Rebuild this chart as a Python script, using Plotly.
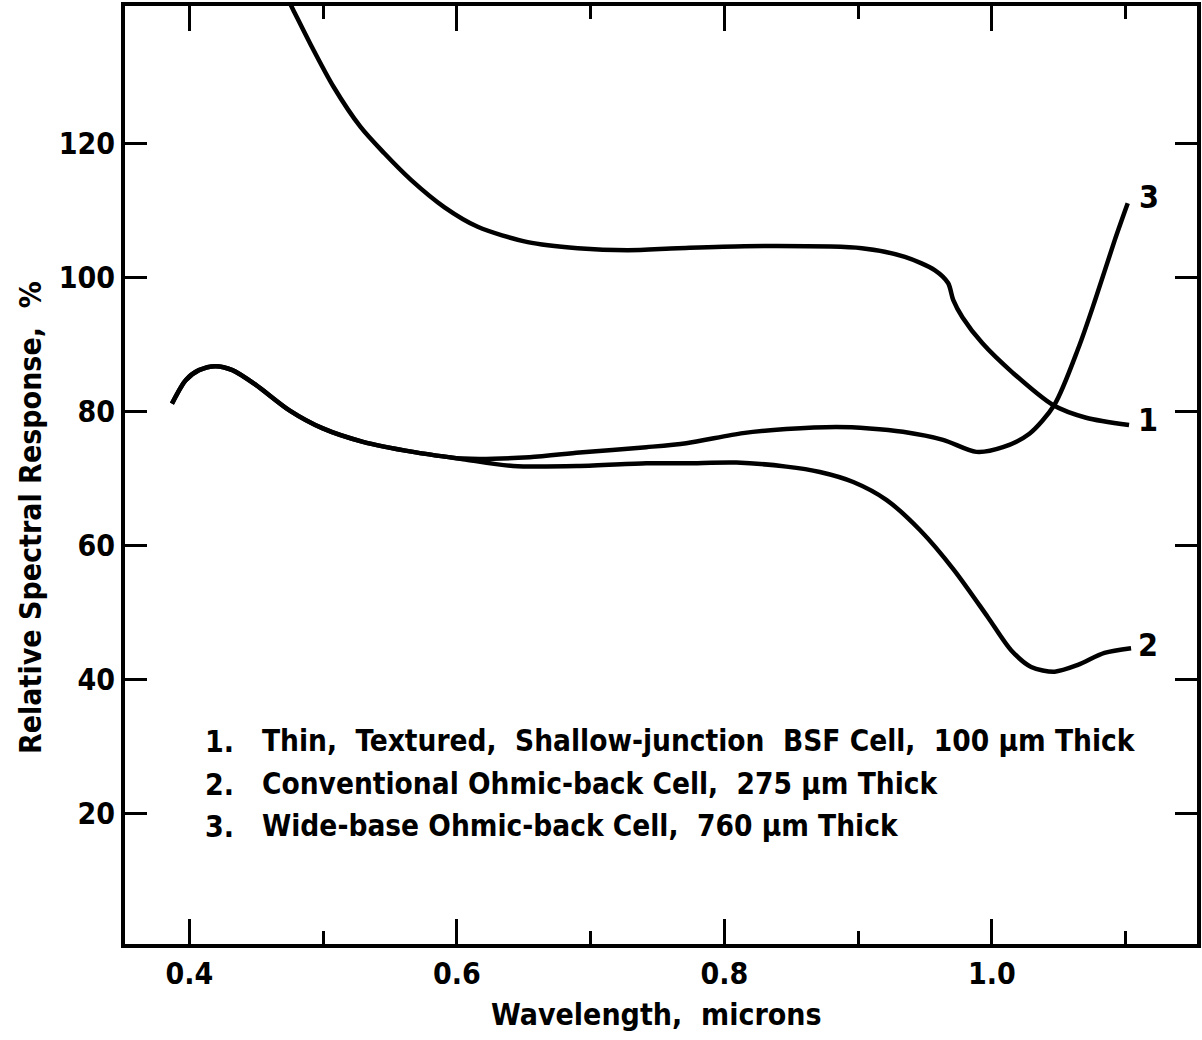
import plotly.graph_objects as go

# ---- data ----
wl_1 = [0.466, 0.4775, 0.4901, 0.5077, 0.5279, 0.5455, 0.5656, 0.5907, 0.6155, 0.6529, 0.6903,
        0.7277, 0.7651, 0.8152, 0.9027, 0.9349, 0.9574, 0.9672, 0.9710, 0.9779, 0.9929, 1.0156,
        1.0456, 1.0704, 1.1025]
resp_1 = [144.5, 139.9, 134.9, 128.4, 122.4, 118.5, 114.5, 110.4, 107.5, 105.2, 104.3,
          104.0, 104.3, 104.6, 104.3, 103.0, 101.0, 99.1, 96.6, 94.0, 90.1, 85.7,
          80.9, 79.0, 77.9]

wl_2 = [0.3869, 0.3972, 0.4071, 0.4196, 0.4321, 0.4496, 0.4747, 0.4997, 0.5297, 0.5671, 0.6046,
        0.6420, 0.6918, 0.7416, 0.7715, 0.8089, 0.8463, 0.8713, 0.8963, 0.9213, 0.9463, 0.9715,
        0.9967, 1.0143, 1.0293, 1.0469, 1.0642, 1.0841, 1.1040]
resp_2 = [81.1, 84.6, 86.1, 86.7, 86.1, 83.9, 80.1, 77.4, 75.4, 73.9, 72.8,
          71.8, 71.8, 72.2, 72.2, 72.3, 71.7, 70.9, 69.4, 66.7, 62.2, 56.3,
          49.3, 44.3, 41.8, 41.1, 42.1, 43.9, 44.6]

wl_3 = [0.3869, 0.3972, 0.4071, 0.4196, 0.4321, 0.4496, 0.4747, 0.4997, 0.5297, 0.5671, 0.6046,
        0.6541, 0.6917, 0.7415, 0.7714, 0.8138, 0.8461, 0.8835, 0.9084, 0.9334, 0.9634, 0.9883,
        1.0082, 1.0280, 1.0466, 1.0650, 1.0772, 1.0918, 1.1015]
resp_3 = [81.1, 84.6, 86.1, 86.7, 86.1, 83.9, 80.1, 77.4, 75.4, 73.9, 72.9,
          73.1, 73.8, 74.6, 75.2, 76.7, 77.3, 77.6, 77.4, 76.9, 75.7, 73.9,
          74.6, 76.6, 80.9, 89.6, 96.6, 105.5, 111.0]

curve_labels = ["1", "2", "3"]
legend_numbers = ["1.", "2.", "3."]
legend_texts = [
    "Thin,  Textured,  Shallow-junction  BSF Cell,  100 \u00b5m Thick",
    "Conventional Ohmic-back Cell,  275 \u00b5m Thick",
    "Wide-base Ohmic-back Cell,  760 \u00b5m Thick",
]
x_tickvals = [0.4, 0.6, 0.8, 1.0]
x_ticktext = ["0.4", "0.6", "0.8", "1.0"]
y_tickvals = [20, 40, 60, 80, 100, 120]
y_ticktext = ["20", "40", "60", "80", "100", "120"]

x_title = "Wavelength,  microns"
y_title = "Relative Spectral Response,  %"

# ---- style ----
FONT = "DejaVu Sans Condensed, Liberation Sans Narrow, Arial Narrow, sans-serif"
INK = "black"
W, H = 1202, 1040
L, R, T, B = 125, 5, 6, 96
PW, PH = W - L - R, H - T - B


def px(x):
    return (x - L) / PW


def py(y):
    return (H - B - y) / PH


fig = go.Figure()
series = [(wl_1, resp_1), (wl_2, resp_2), (wl_3, resp_3)]
for (xs, ys), name in zip(series, curve_labels):
    fig.add_trace(go.Scatter(
        x=xs, y=ys, mode="lines", name=name, showlegend=False,
        line=dict(color=INK, width=4.5, shape="spline", smoothing=0.8),
    ))

# curve end labels, anchored to the last data point of each series
label_shift = [(19, 5), (17, 3), (21, 6)]
for (xs, ys), name, (dx, dy) in zip(series, curve_labels, label_shift):
    fig.add_annotation(
        x=xs[-1], y=ys[-1], xref="x", yref="y", text=name, showarrow=False,
        xanchor="center", yanchor="middle", xshift=dx, yshift=dy,
        font=dict(family=FONT, size=32, color=INK, weight="bold"),
    )

# legend block
row_y = [741, 784, 826]
for num, txt, yy in zip(legend_numbers, legend_texts, row_y):
    fig.add_annotation(
        x=px(203), y=py(yy), xref="paper", yref="paper", text=num, showarrow=False,
        xanchor="left", yanchor="middle",
        font=dict(family=FONT, size=30, color=INK, weight="bold"),
    )
    fig.add_annotation(
        x=px(260), y=py(yy), xref="paper", yref="paper", text=txt, showarrow=False,
        xanchor="left", yanchor="middle",
        font=dict(family=FONT, size=29.5, color=INK, weight="bold"),
    )

# axis titles (positioned like the reference)
fig.add_annotation(
    x=px(656), y=py(1014), xref="paper", yref="paper", text=x_title, showarrow=False,
    xanchor="center", yanchor="middle",
    font=dict(family=FONT, size=30, color=INK, weight="bold"),
)
fig.add_annotation(
    x=px(30), y=py(518), xref="paper", yref="paper", text=y_title, showarrow=False,
    xanchor="center", yanchor="middle", textangle=-90,
    font=dict(family=FONT, size=30, color=INK, weight="bold"),
)

axis_common = dict(
    showline=True, linecolor=INK, linewidth=4, mirror="ticks",
    ticks="inside", tickcolor=INK, tickwidth=3,
    showgrid=False, zeroline=False,
    tickfont=dict(family=FONT, size=30, color=INK, weight="bold"),
)

fig.update_xaxes(
    range=[0.3518, 1.1533], tickvals=x_tickvals, ticktext=x_ticktext, ticklen=25,
    minor=dict(ticks="inside", tickvals=[0.5, 0.7, 0.9, 1.1], ticklen=13, tickwidth=3, tickcolor=INK),
    **axis_common,
)
fig.update_yaxes(
    range=[0.45, 140.45], tickvals=y_tickvals, ticktext=y_ticktext, ticklen=22,
    **axis_common,
)

fig.update_layout(
    width=W, height=H,
    margin=dict(l=L, r=R, t=T, b=B, autoexpand=False),
    plot_bgcolor="white", paper_bgcolor="white",
    showlegend=False,
)

fig.write_html("out.html")
